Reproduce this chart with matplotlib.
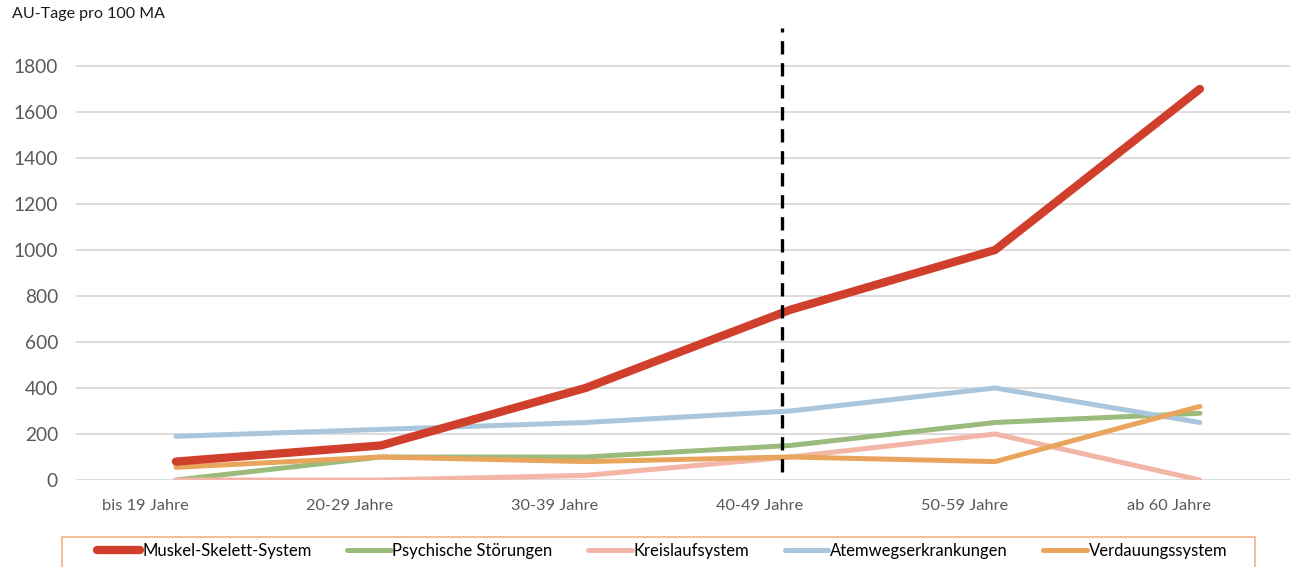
import matplotlib
matplotlib.use("Agg")
import matplotlib.pyplot as plt
from matplotlib.patches import Rectangle

plt.rcParams['font.family'] = ['Lato', 'DejaVu Sans']

age_groups = ["bis 19 Jahre", "20-29 Jahre", "30-39 Jahre", "40-49 Jahre", "50-59 Jahre", "ab 60 Jahre"]
muskel = [80, 150, 400, 740, 1000, 1700]
psyche = [0, 100, 100, 150, 250, 290]
kreislauf = [0, 0, 20, 100, 200, 0]
atemweg = [190, 220, 250, 300, 400, 250]
verdauung = [55, 100, 80, 100, 80, 320]
y_ticks = [0, 200, 400, 600, 800, 1000, 1200, 1400, 1600, 1800]
marker_group = "40-49 Jahre"

series = [
    ("Muskel-Skelett-System", muskel, "#D03F2B", 6.0, 5),
    ("Psychische Störungen", psyche, "#9BBB7C", 3.6, 2),
    ("Kreislaufsystem", kreislauf, "#F2B5A6", 3.6, 2),
    ("Atemwegserkrankungen", atemweg, "#A9C6DD", 3.6, 2),
    ("Verdauungssystem", verdauung, "#E9A55C", 3.6, 3),
]

W, H = 1290, 567
fig = plt.figure(figsize=(W / 100, H / 100), dpi=100)
ax = fig.add_axes([76 / W, (H - 480) / H, (W - 76) / W, (480 - 28) / H])

x = list(range(len(age_groups)))
handles = []
for name, vals, color, lw, z in series:
    ln, = ax.plot(x, vals, color=color, lw=lw, label=name, zorder=z,
                  solid_capstyle='round', solid_joinstyle='round')
    handles.append(ln)

# dashed separator just left of the 40-49 group
ax.axvline(age_groups.index(marker_group) - 0.04, ymin=0.018, ymax=1, color="black",
           lw=2.4, linestyle=(0, (4, 2.6)), zorder=6)

ax.set_xlim(-0.488, 5.44)
ax.set_ylim(0, 1965)
ax.set_yticks(y_ticks)
# category labels sit a bit left of the data points
ax.set_xticks([i - 0.15 for i in x])
ax.set_xticklabels(age_groups, fontsize=11.8, color="#595959")
ax.tick_params(axis='y', labelsize=13.8, colors="#595959", length=0, pad=13)
ax.tick_params(axis='x', length=0, pad=14)
ax.grid(axis='y', color="#D9D9D9", lw=1.3)
ax.set_axisbelow(True)
for s in ax.spines.values():
    s.set_visible(False)

fig.text(12 / W, 1 - 14 / H, "AU-Tage pro 100 MA", fontsize=11.5, color="#1a1a1a",
         va="center", ha="left")

# legend frame, running off the bottom edge
fig.patches.append(Rectangle((62 / W, -0.05), (1255 - 62) / W, 0.05 + (H - 537) / H,
                             transform=fig.transFigure, fill=False,
                             edgecolor="#F4B183", lw=1.2))
fig.legend(handles=handles, loc="center left", bbox_to_anchor=(97 / W, 1 - 551 / H),
           ncol=5, frameon=False, fontsize=12, handlelength=2.6, handletextpad=0.1,
           columnspacing=2.15, borderaxespad=0, borderpad=0)

fig.savefig("out.png", dpi=100)
